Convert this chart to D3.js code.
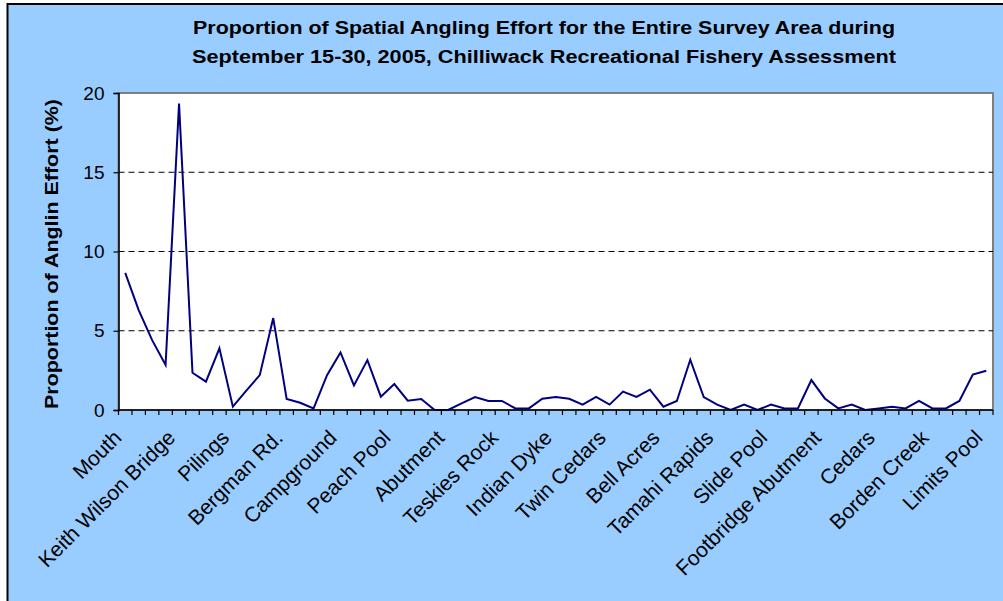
<!DOCTYPE html>
<html>
<head>
<meta charset="utf-8">
<script src="https://cdn.jsdelivr.net/npm/d3@7"></script>
<style>
  html, body { margin: 0; padding: 0; background: #ffffff; }
  svg { display: block; }
  text { font-family: "Liberation Sans", Arial, sans-serif; }
</style>
</head>
<body>
<svg id="chart" width="1003" height="601"></svg>
<script>
// ---- data ----
const titleLines = [
  "Proportion of Spatial Angling Effort for the Entire Survey Area during",
  "September 15-30, 2005, Chilliwack Recreational Fishery Assessment"
];
const yAxisTitle = "Proportion of Anglin Effort (%)";
const siteIndex = d3.range(65);
const tickLabels = [
  "Mouth", "Keith Wilson Bridge", "Pilings", "Bergman Rd.", "Campground",
  "Peach Pool", "Abutment", "Teskies Rock", "Indian Dyke", "Twin Cedars",
  "Bell Acres", "Tamahi Rapids", "Slide Pool", "Footbridge Abutment",
  "Cedars", "Borden Creek", "Limits Pool"
];
const effort = [
  8.65, 6.3, 4.41, 2.84, 19.33, 2.35, 1.79, 3.89, 0.21, 1.22,
  2.2, 5.8, 0.69, 0.46, 0.1, 2.2, 3.63, 1.55, 3.15, 0.84,
  1.64, 0.59, 0.69, 0.0, 0.0, 0.42, 0.82, 0.57, 0.57, 0.1,
  0.1, 0.71, 0.82, 0.71, 0.34, 0.82, 0.34, 1.16, 0.82, 1.28,
  0.21, 0.57, 3.17, 0.82, 0.34, 0.0, 0.34, 0.0, 0.34, 0.1,
  0.1, 1.89, 0.73, 0.1, 0.34, 0.0, 0.1, 0.21, 0.1, 0.57,
  0.1, 0.1, 0.57, 2.23, 2.48
];
const yTicks = [0, 5, 10, 15, 20];

// ---- layout ----
const W = 1003, H = 601;
const plot = { left: 118.5, right: 993, top: 93, bottom: 410 };

const svg = d3.select("#chart");

// chart area background + frame
svg.append("rect").attr("x", 7.5).attr("y", 4).attr("width", W).attr("height", H)
  .attr("fill", "#99CCFF").attr("stroke", "#000").attr("stroke-width", 2);

// scales
const x = d3.scaleBand().domain(siteIndex).range([plot.left, plot.right]).padding(0);
const y = d3.scaleLinear().domain([0, 20]).range([plot.bottom, plot.top]);

// plot area
svg.append("rect")
  .attr("x", plot.left).attr("y", plot.top)
  .attr("width", plot.right - plot.left).attr("height", plot.bottom - plot.top)
  .attr("fill", "#ffffff").attr("stroke", "#808080").attr("stroke-width", 2);

// gridlines
svg.append("g").selectAll("line")
  .data(yTicks.filter(d => d > 0 && d < 20))
  .join("line")
  .attr("x1", plot.left).attr("x2", plot.right)
  .attr("y1", d => y(d)).attr("y2", d => y(d))
  .attr("stroke", "#000").attr("stroke-width", 1)
  .attr("stroke-dasharray", "6,4");

// line
const line = d3.line()
  .x((d, i) => x(siteIndex[i]) + x.bandwidth() / 2)
  .y(d => y(d));
svg.append("path").datum(effort)
  .attr("d", line)
  .attr("fill", "none").attr("stroke", "#000080").attr("stroke-width", 2)
  .attr("stroke-linejoin", "miter");

// y axis
const yAxis = d3.axisLeft(y).tickValues(yTicks).tickSize(5).tickPadding(9);
const gy = svg.append("g").attr("transform", `translate(${plot.left},0)`).call(yAxis);
gy.select(".domain").attr("stroke", "#000").attr("stroke-width", 1.5);
gy.selectAll(".tick line").attr("stroke", "#000").attr("stroke-width", 1.2);
gy.selectAll(".tick text").attr("font-size", 19).attr("fill", "#000")
  .attr("font-family", "Liberation Sans, Arial, sans-serif");

// x axis: ticks at category boundaries
const boundaries = siteIndex.map(i => x(i)).concat([plot.right]);
const gx = svg.append("g");
gx.append("line").attr("x1", plot.left).attr("x2", plot.right)
  .attr("y1", plot.bottom).attr("y2", plot.bottom)
  .attr("stroke", "#000").attr("stroke-width", 1.5);
gx.selectAll("line.tk").data(boundaries).join("line").attr("class", "tk")
  .attr("x1", d => d).attr("x2", d => d)
  .attr("y1", plot.bottom).attr("y2", plot.bottom + 5)
  .attr("stroke", "#000").attr("stroke-width", 1.2);

// x labels (every 4th site)
gx.selectAll("text.xl").data(tickLabels).join("text").attr("class", "xl")
  .attr("transform", (d, k) => {
    const cx = x(siteIndex[k * 4]) + x.bandwidth() / 2;
    return `translate(${cx - 2.5},${plot.bottom + 29}) rotate(-45)`;
  })
  .attr("text-anchor", "end")
  .attr("font-size", 21)
  .attr("fill", "#000")
  .text(d => d);

// y axis title
svg.append("text")
  .attr("transform", `translate(57.5,254) rotate(-90)`)
  .attr("text-anchor", "middle")
  .attr("font-size", 18.5).attr("font-weight", "bold").attr("fill", "#000")
  .attr("textLength", 310).attr("lengthAdjust", "spacingAndGlyphs")
  .text(yAxisTitle);

// title
svg.append("g").selectAll("text").data(titleLines).join("text")
  .attr("x", 544).attr("y", (d, i) => 34 + i * 29)
  .attr("text-anchor", "middle")
  .attr("font-size", 18).attr("font-weight", "bold").attr("fill", "#000")
  .attr("textLength", (d, i) => i === 0 ? 702 : 704)
  .attr("lengthAdjust", "spacingAndGlyphs")
  .text(d => d);
</script>
</body>
</html>
